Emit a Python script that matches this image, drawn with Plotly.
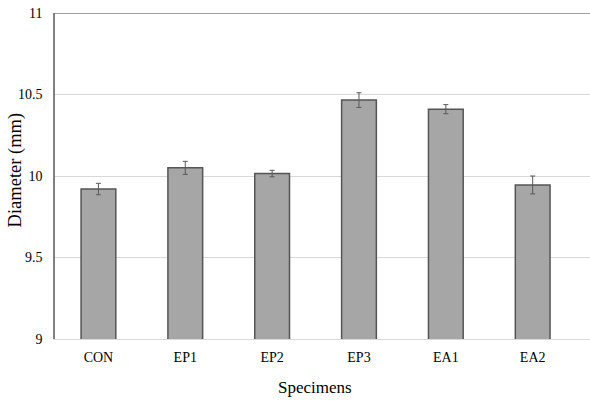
import plotly.graph_objects as go

categories = ["CON", "EP1", "EP2", "EP3", "EA1", "EA2"]
diameters = [9.92, 10.05, 10.015, 10.466, 10.41, 9.945]
errors = [0.035, 0.04, 0.02, 0.045, 0.028, 0.055]
y_ticks = [9, 9.5, 10, 10.5, 11]
y_tick_labels = ["9", "9.5", "10", "10.5", "11"]
x_title = "Specimens"
y_title = "Diameter (mm)"

font_family = "Times New Roman, Liberation Serif, DejaVu Serif, serif"

fig = go.Figure()
fig.add_trace(go.Bar(
    x=categories,
    y=diameters,
    marker=dict(color="#a6a6a6", line=dict(color="#555555", width=1.5)),
    error_y=dict(type="data", array=errors, visible=True, color="#595959",
                 thickness=1, width=2.5),
    width=0.4,
))

fig.add_shape(type="line", xref="paper", yref="y", x0=0, x1=1, y0=11, y1=11,
              line=dict(color="#808080", width=1.5))

fig.add_annotation(text=y_title, textangle=-90, xref="paper", yref="paper",
                   x=-0.073, y=0.52, xanchor="center", yanchor="middle",
                   showarrow=False, font=dict(size=18.5, family=font_family, color="#000000"))
fig.add_annotation(text=x_title, xref="paper", yref="paper",
                   x=0.486, y=-0.150, xanchor="center", yanchor="middle",
                   showarrow=False, font=dict(size=17, family=font_family, color="#000000"))

fig.update_layout(
    template="none",
    width=590, height=401,
    margin=dict(l=55, r=0, t=13, b=62),
    paper_bgcolor="white", plot_bgcolor="white",
    showlegend=False,
    font=dict(family=font_family, color="#000000", size=14),
    xaxis=dict(
        range=[-0.5, 5.66], automargin=False,
        showline=True, linecolor="#d9d9d9", linewidth=1,
        showgrid=False, zeroline=False,
        ticks="outside", ticklen=5, tickcolor="rgba(0,0,0,0)",
        tickfont=dict(size=14, family=font_family),
    ),
    yaxis=dict(
        range=[9, 11], automargin=False,
        tickvals=y_ticks, ticktext=y_tick_labels,
        showline=True, linecolor="#808080", linewidth=1.5,
        showgrid=True, gridcolor="#d9d9d9", gridwidth=1,
        zeroline=False, ticks="outside", ticklen=8, tickcolor="rgba(0,0,0,0)",
        tickfont=dict(size=14, family=font_family),
    ),
)

fig.write_html("out.html", config={"displayModeBar": False},
               post_script="document.body.style.margin='0px';")
